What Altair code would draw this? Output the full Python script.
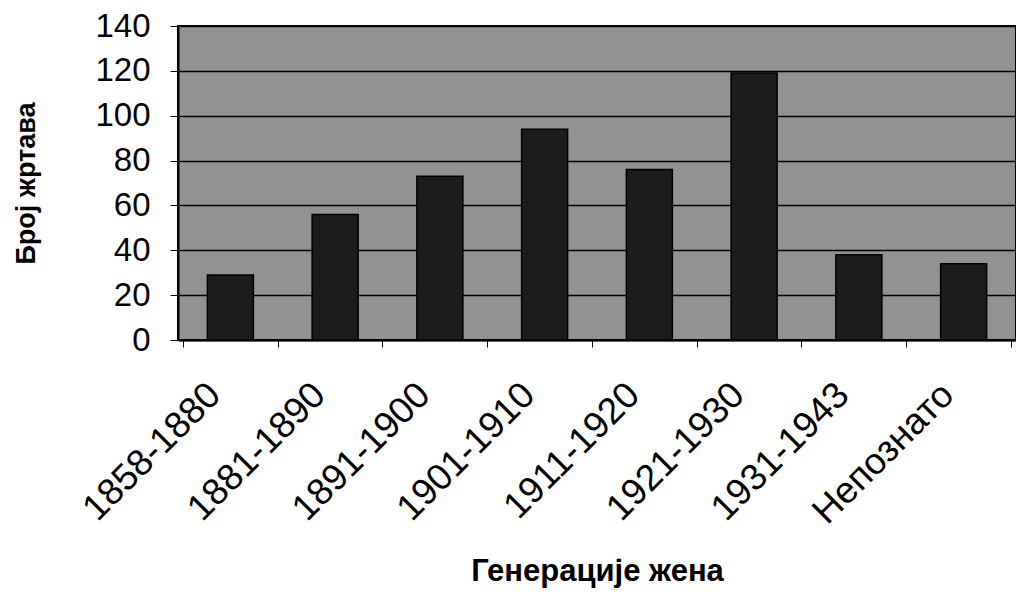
import altair as alt
import pandas as pd

categories = ["1858-1880", "1881-1890", "1891-1900", "1901-1910",
              "1911-1920", "1921-1930", "1931-1943", "Непознато"]
values = [29, 56, 73, 94, 76, 119, 38, 34]
y_ticks = [0, 20, 40, 60, 80, 100, 120, 140]

df = pd.DataFrame({"gen": categories, "n": values})

FONT = "Liberation Sans"

chart = alt.Chart(df).mark_bar(
    size=46, color="#1c1c1c", stroke="#000000", strokeWidth=1.5
).encode(
    x=alt.X("gen:N", sort=categories,
            title="Генерације жена",
            axis=alt.Axis(labelAngle=-45, labelAlign="right", labelBaseline="middle",
                          labelOffset=-16, labelPadding=42, tickSize=7, labelLimit=400,
                          tickBand="extent", tickColor="#000000", tickWidth=1,
                          domainColor="#000000", domainWidth=2,
                          labelFont=FONT, labelFontSize=37, labelColor="#000000",
                          titleFont=FONT, titleFontSize=31, titleFontWeight="bold",
                          titleColor="#000000", titlePadding=26, grid=False)),
    y=alt.Y("n:Q", title="Број жртава",
            scale=alt.Scale(domain=[0, 140], nice=False),
            axis=alt.Axis(values=y_ticks, tickSize=8, tickColor="#000000", tickWidth=1,
                          domainColor="#000000", domainWidth=2,
                          labelFont=FONT, labelFontSize=33, labelColor="#000000",
                          labelPadding=20,
                          titleFont=FONT, titleFontSize=27, titleFontWeight="bold",
                          titleColor="#000000", titlePadding=54,
                          grid=True, gridColor="#000000", gridWidth=1.5, gridOpacity=1)),
).properties(
    width=838, height=314,
    autosize=alt.AutoSizeParams(type="none"),
    padding={"left": 170, "top": 18, "right": 0, "bottom": 250},
    background="#ffffff",
).configure_view(
    fill="#929292", stroke="#000000", strokeWidth=2
)

chart.save("out.html", embed_options={"renderer": "svg", "actions": False})
